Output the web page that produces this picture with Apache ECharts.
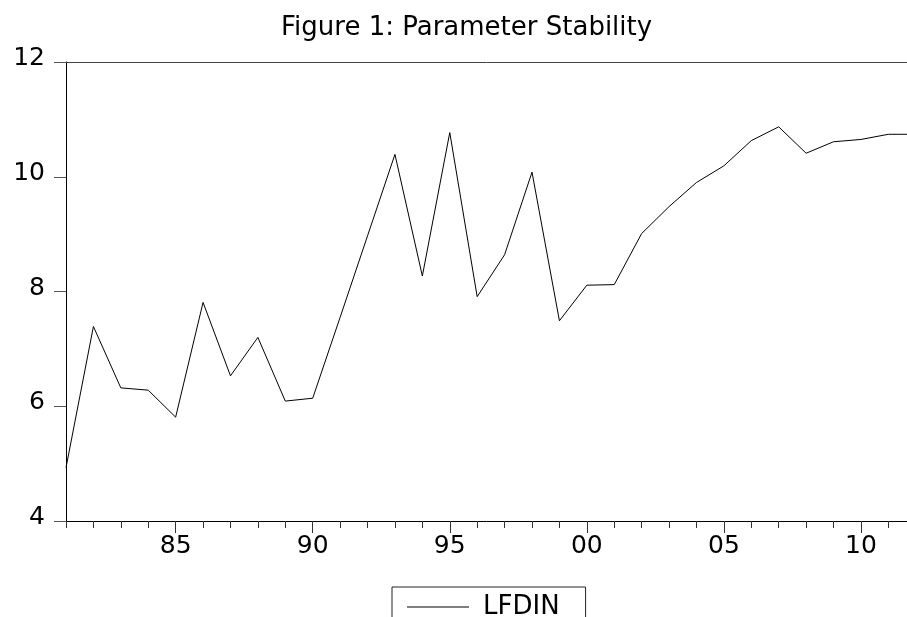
<!DOCTYPE html>
<html>
<head>
<meta charset="utf-8">
<script src="https://cdn.jsdelivr.net/npm/echarts@6/dist/echarts.min.js"></script>
<style>
  html, body { margin: 0; padding: 0; background: #fff; }
  #main { width: 907px; height: 617px; }
</style>
</head>
<body>
<div id="main"></div>
<script>
// annual series
const years = [1981, 1982, 1983, 1984, 1985, 1986, 1987, 1988, 1989, 1990,
               1991, 1992, 1993, 1994, 1995, 1996, 1997, 1998, 1999, 2000,
               2001, 2002, 2003, 2004, 2005, 2006, 2007, 2008, 2009, 2010,
               2011, 2012];
const lfdin = [4.93, 7.39, 6.32, 6.28, 5.81, 7.81, 6.53, 7.20, 6.09, 6.14,
               7.55, 8.97, 10.39, 8.27, 10.77, 7.91, 8.64, 10.08, 7.49, 8.11,
               8.12, 9.01, 9.48, 9.90, 10.19, 10.63, 10.87, 10.41, 10.61, 10.65,
               10.74, 10.74];
const labelYears = [1985, 1990, 1995, 2000, 2005, 2010];
const yTicks = [4, 6, 8, 10, 12];

const font = 'DejaVu Sans';
const xMin = 1981;
const xMax = 2011.68;

let chart = echarts.init(document.getElementById('main'));

const yearLabel = v => String(v).slice(2);

chart.setOption({
    animation: false,
    title: {
        text: 'Figure 1: Parameter Stability',
        left: 281,
        top: 15,
        padding: 0,
        textStyle: { fontFamily: font, fontSize: 26, fontWeight: 'normal', color: '#000' }
    },
    legend: {
        left: 392,
        top: 587,
        padding: [7, 26, 20, 15],
        borderColor: '#222',
        borderWidth: 1,
        icon: 'rect',
        itemWidth: 62,
        itemHeight: 1,
        data: ['LFDIN'],
        itemStyle: { color: '#000' },
        textStyle: { fontFamily: font, fontSize: 26, color: '#000', padding: [0, 0, 0, 9] }
    },
    grid: { left: 66, top: 62, right: 0, bottom: 96 },
    xAxis: [{
        // yearly minor ticks + labels
        type: 'value',
        min: xMin, max: xMax, interval: 1,
        splitLine: { show: false },
        axisLine: { lineStyle: { color: '#000', width: 1 } },
        axisTick: { length: 7, inside: false, lineStyle: { color: '#333' } },
        axisLabel: {
            customValues: labelYears,
            formatter: yearLabel,
            margin: 13,
            fontFamily: font, fontSize: 25, color: '#000'
        }
    }, {
        // longer ticks at the labelled years
        type: 'value',
        min: xMin, max: xMax,
        position: 'bottom',
        splitLine: { show: false },
        axisLine: { show: false },
        axisTick: { customValues: labelYears, length: 12, lineStyle: { color: '#333' } },
        axisLabel: { show: false }
    }, {
        // top frame line
        type: 'value',
        min: xMin, max: xMax,
        position: 'top',
        splitLine: { show: false },
        axisLine: { lineStyle: { color: '#444', width: 1 } },
        axisTick: { show: false },
        axisLabel: { show: false }
    }],
    yAxis: {
        type: 'value',
        min: yTicks[0], max: yTicks[yTicks.length - 1], interval: 2,
        splitLine: { show: false },
        axisLine: { show: true, lineStyle: { color: '#000', width: 1 } },
        axisTick: { show: true, length: 12, lineStyle: { color: '#555' } },
        axisLabel: {
            margin: 21,
            formatter: '{v|{value}}',
            rich: {
                v: { fontFamily: font, fontSize: 25, color: '#000', padding: [0, 0, 7, 0] }
            }
        }
    },
    series: [{
        name: 'LFDIN',
        type: 'line',
        xAxisIndex: 0,
        data: years.map((y, i) => [y, lfdin[i]]),
        symbol: 'none',
        clip: true,
        lineStyle: { color: '#000', width: 1 },
        itemStyle: { color: '#000' }
    }]
});
</script>
</body>
</html>
